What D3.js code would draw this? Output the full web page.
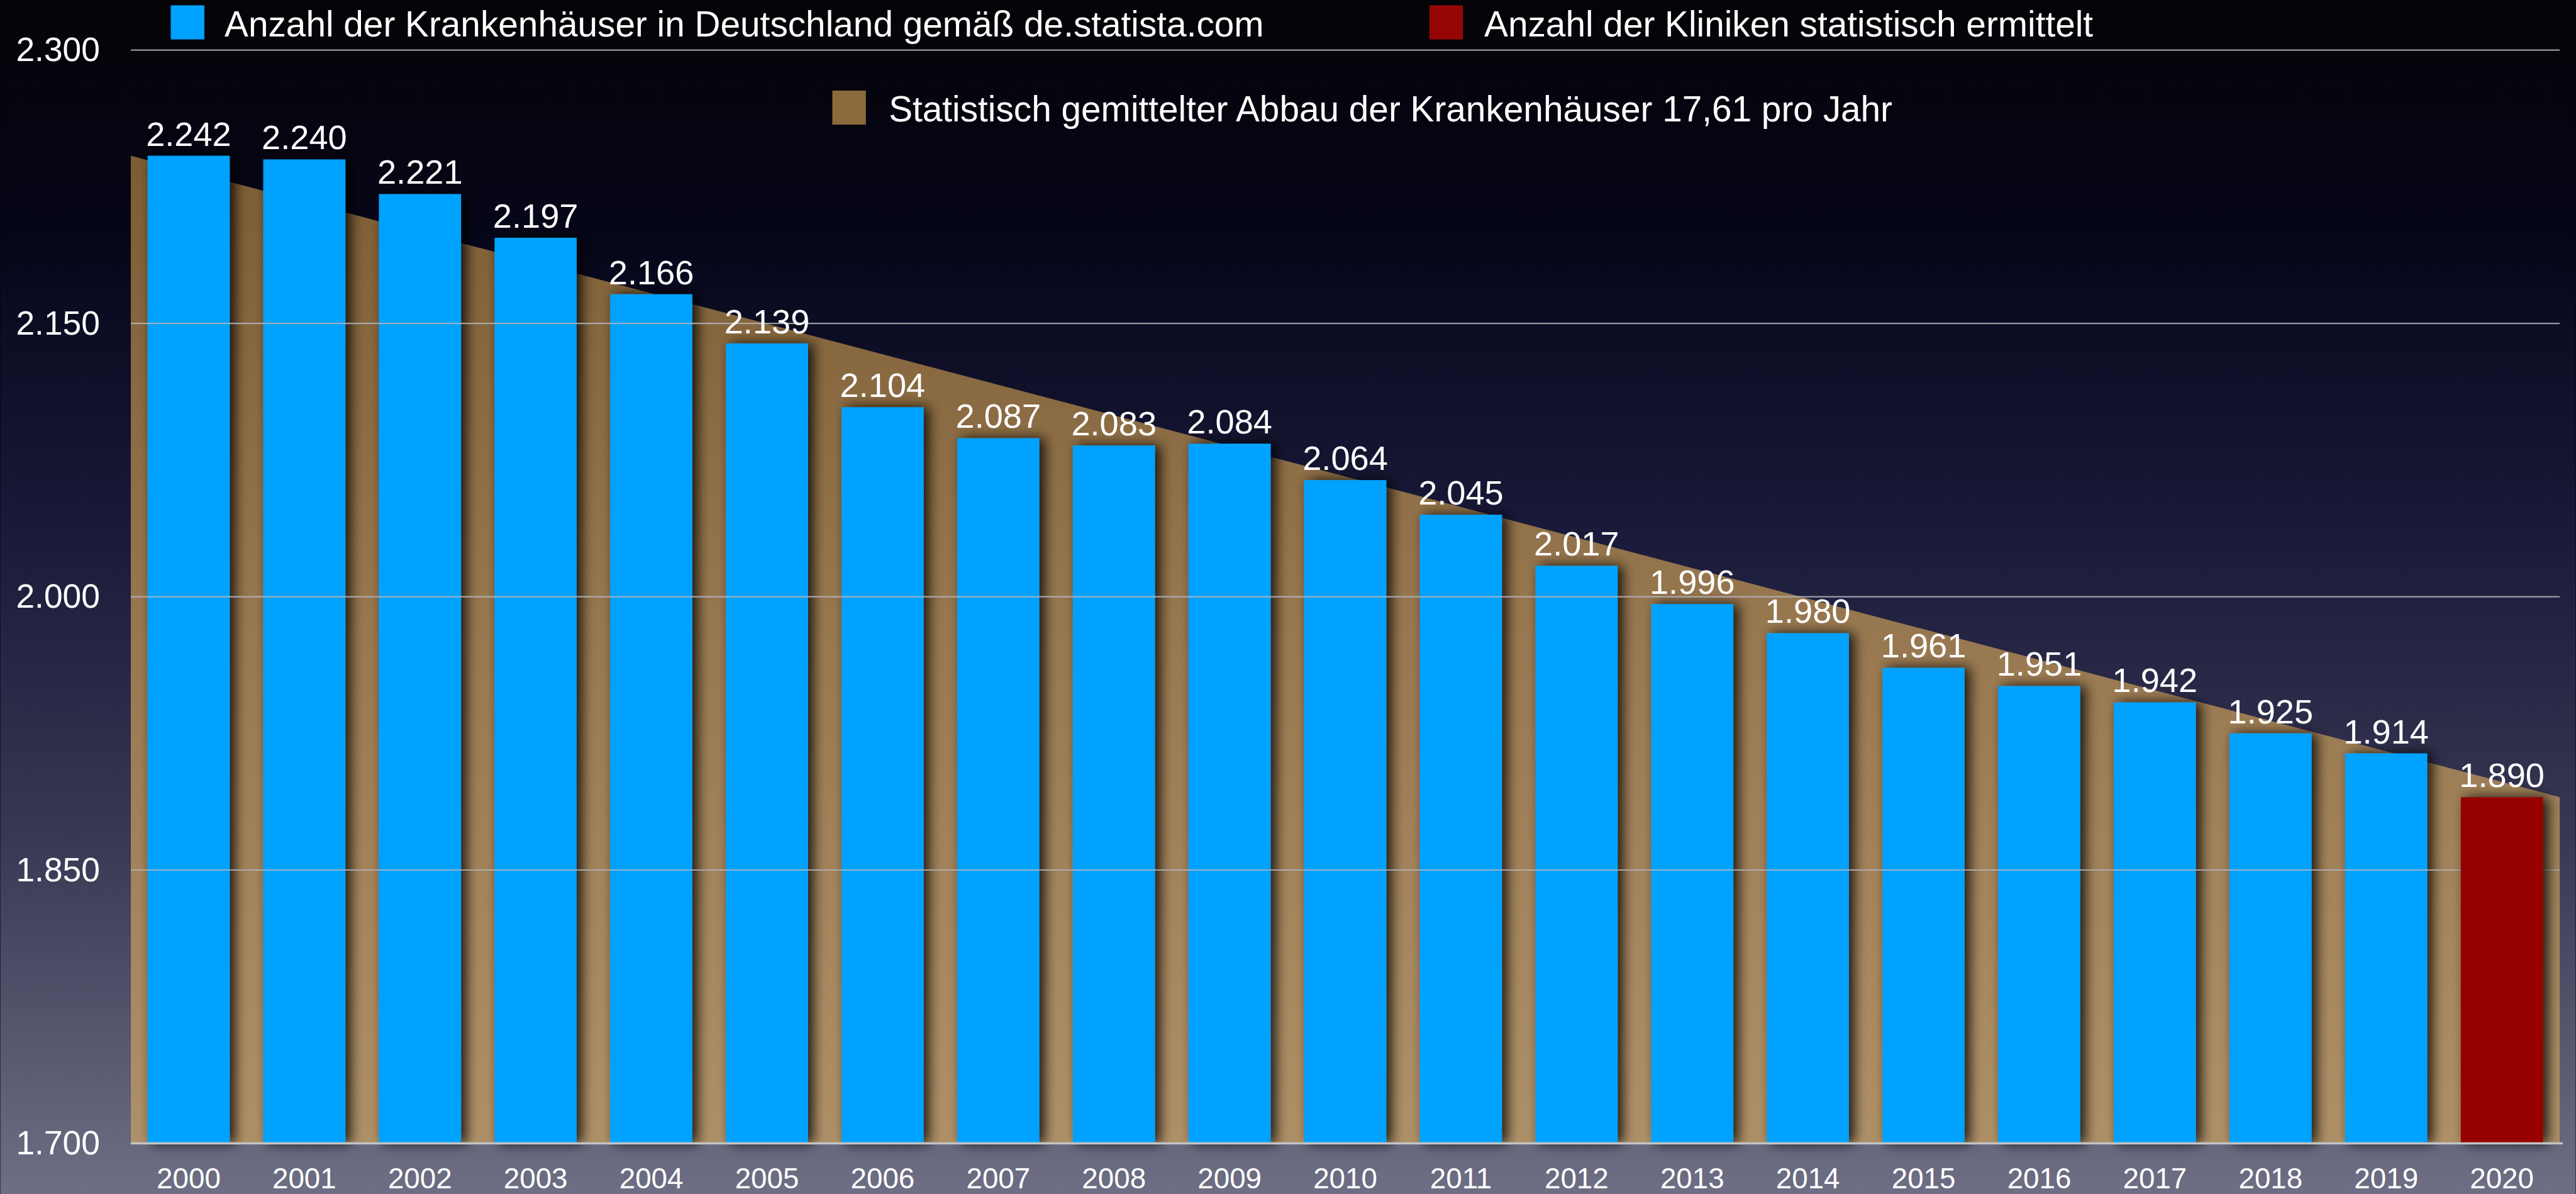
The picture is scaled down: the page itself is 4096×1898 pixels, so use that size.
<!DOCTYPE html>
<html>
<head>
<meta charset="utf-8">
<script src="https://cdn.jsdelivr.net/npm/d3@7"></script>
<style>
  html, body { margin: 0; padding: 0; background: #000; overflow: hidden; }
  svg { display: block; }
  text { font-family: "Liberation Sans", Arial, Helvetica, sans-serif; fill: #fff; }
</style>
</head>
<body>
<svg id="chart"></svg>
<script>
// Krankenhäuser in Deutschland 2000–2020
const years = ["2000","2001","2002","2003","2004","2005","2006","2007","2008","2009",
               "2010","2011","2012","2013","2014","2015","2016","2017","2018","2019","2020"];
const hospitals = [2242, 2240, 2221, 2197, 2166, 2139, 2104, 2087, 2083, 2084,
                   2064, 2045, 2017, 1996, 1980, 1961, 1951, 1942, 1925, 1914, 1890];
// 2020 is the statistically estimated value (drawn in red)
const estimatedYears = ["2020"];
// linear trend, -17,61 per year
const trendYears = [2000, 2020];
const trendValues = [2242, 1890];
const yTicks = [1700, 1850, 2000, 2150, 2300];
const legendLabels = [
  "Anzahl der Krankenhäuser in Deutschland gemäß de.statista.com",
  "Anzahl der Kliniken statistisch ermittelt",
  "Statistisch gemittelter Abbau der Krankenhäuser 17,61 pro Jahr"
];

(function () {
const W = 4835, H = 2241;
const svg = d3.select("#chart")
  .attr("width", 4096).attr("height", 1898)
  .attr("viewBox", `0 0 ${W} ${H}`);

const plotLeft = 245, plotRight = 4805, plotTop = 94, plotBottom = 2146;

const de = d3.formatLocale({decimal: ",", thousands: ".", grouping: [3], currency: ["", " €"]});
const fmt = de.format(",d");

const defs = svg.append("defs");
const bg = defs.append("linearGradient").attr("id", "bg")
  .attr("x1", 0).attr("y1", 0).attr("x2", 0).attr("y2", 1);
[[0, "#040407"], [0.2, "#06061a"], [0.45, "#1a1a3a"], [0.7, "#383854"], [1, "#6e6e84"]]
  .forEach(([o, c]) => bg.append("stop").attr("offset", o).attr("stop-color", c));

const brown = defs.append("linearGradient").attr("id", "brown")
  .attr("gradientUnits", "userSpaceOnUse")
  .attr("x1", 0).attr("y1", plotTop + 150).attr("x2", 0).attr("y2", plotBottom);
[[0, "#7a5b32"], [0.5, "#987850"], [1, "#ae9068"]]
  .forEach(([o, c]) => brown.append("stop").attr("offset", o).attr("stop-color", c));

const shadow = defs.append("filter").attr("id", "shadow")
  .attr("x", "-30%").attr("y", "-10%").attr("width", "160%").attr("height", "120%");
shadow.append("feGaussianBlur").attr("in", "SourceAlpha").attr("stdDeviation", 12).attr("result", "b");
shadow.append("feOffset").attr("in", "b").attr("dx", 10).attr("dy", 0).attr("result", "o");
shadow.append("feComponentTransfer").attr("in", "o").attr("result", "s")
  .append("feFuncA").attr("type", "linear").attr("slope", 0.85);
const merge = shadow.append("feMerge");
merge.append("feMergeNode").attr("in", "s");
merge.append("feMergeNode").attr("in", "SourceGraphic");

svg.append("rect").attr("width", W).attr("height", H).attr("fill", "url(#bg)");

const x = d3.scaleBand().domain(years).range([plotLeft, plotRight]).paddingInner(0.29).paddingOuter(0.145);
const xTrend = d3.scaleLinear().domain(d3.extent(trendYears)).range([plotLeft, plotRight]);
const y = d3.scaleLinear().domain([1700, 2300]).range([plotBottom, plotTop]);

// trend area
const area = d3.area().x((d, i) => xTrend(trendYears[i])).y0(y(1700)).y1(d => y(d));
svg.append("path").datum(trendValues).attr("d", area).attr("fill", "url(#brown)");

const data = years.map((yr, i) => ({year: yr, value: hospitals[i], est: estimatedYears.includes(yr)}));

function drawBars(sel, color) {
  sel.append("rect")
    .attr("x", d => x(d.year)).attr("width", x.bandwidth())
    .attr("y", d => y(d.value)).attr("height", d => y(1700) - y(d.value))
    .attr("fill", color).attr("filter", "url(#shadow)");
}
svg.append("g").selectAll("g.b").data(data.filter(d => !d.est)).join("g").attr("class", "b")
  .call(drawBars, "#00a2ff");

// grid lines
svg.append("g").selectAll("line").data(yTicks.filter(t => t > 1700)).join("line")
  .attr("x1", plotLeft).attr("x2", plotRight)
  .attr("y1", d => y(d)).attr("y2", d => y(d))
  .attr("stroke", "#b4b4bc").attr("stroke-width", 2.5).attr("stroke-opacity", 0.85);

svg.append("g").selectAll("g.r").data(data.filter(d => d.est)).join("g").attr("class", "r")
  .call(drawBars, "#970606");

// baseline
svg.append("line").attr("x1", plotLeft).attr("x2", plotRight + 6)
  .attr("y1", y(1700)).attr("y2", y(1700))
  .attr("stroke", "#c4c4c4").attr("stroke-width", 4);

// y axis labels
const yAxis = d3.axisLeft(y).tickValues(yTicks).tickFormat(d => fmt(d)).tickSize(0).tickPadding(0);
const ya = svg.append("g").attr("transform", "translate(187,0)").call(yAxis);
ya.select(".domain").remove();
ya.selectAll("text").attr("font-size", 63).attr("fill", "#fff")
  .attr("font-family", "'Liberation Sans', Arial, sans-serif");

// x axis labels
const xAxis = d3.axisBottom(x).tickSize(0).tickPadding(0);
const xa = svg.append("g").attr("transform", "translate(0,2230)").call(xAxis);
xa.select(".domain").remove();
xa.selectAll("text").attr("font-size", 54).attr("fill", "#fff").attr("dy", 0)
  .attr("font-family", "'Liberation Sans', Arial, sans-serif");

// value labels
svg.append("g").selectAll("text").data(data).join("text")
  .attr("x", d => x(d.year) + x.bandwidth() / 2)
  .attr("y", d => y(d.value) - 19)
  .attr("text-anchor", "middle").attr("font-size", 64)
  .text(d => fmt(d.value));

// legend
const legend = [
  {label: legendLabels[0], color: "#00a2ff", sx: 320, sy: 10, tx: 421, ty: 68},
  {label: legendLabels[1], color: "#970606", sx: 2683, sy: 10, tx: 2786, ty: 68},
  {label: legendLabels[2], color: "#8a6a3a", sx: 1562, sy: 170, tx: 1668, ty: 228}
];
const lg = svg.append("g").selectAll("g").data(legend).join("g");
lg.append("rect").attr("x", d => d.sx).attr("y", d => d.sy).attr("width", 63).attr("height", 64)
  .attr("fill", d => d.color);
lg.append("text").attr("x", d => d.tx).attr("y", d => d.ty).attr("font-size", 67).text(d => d.label);
})();
</script>
</body>
</html>
